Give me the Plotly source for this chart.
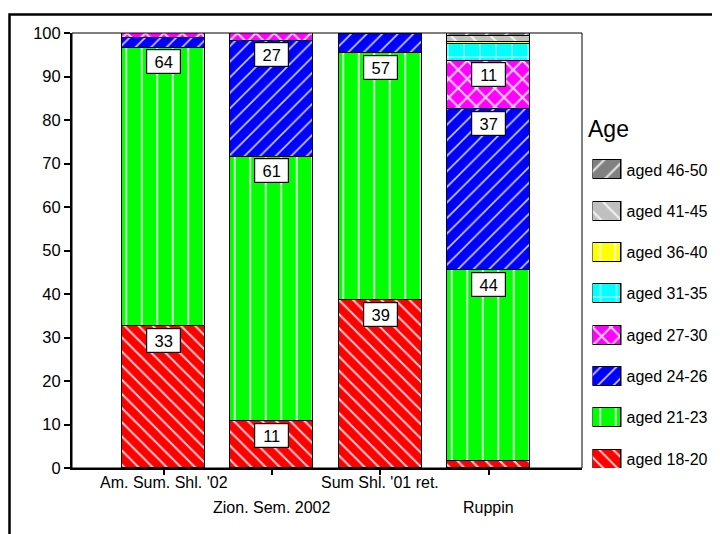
import plotly.graph_objects as go

categories = ["Am. Sum. Shl. '02", "Zion. Sem. 2002", "Sum Shl. '01 ret.", "Ruppin"]
age_groups = ["aged 18-20", "aged 21-23", "aged 24-26", "aged 27-30",
              "aged 31-35", "aged 36-40", "aged 41-45", "aged 46-50"]
aged_18_20 = [32.6, 10.8, 38.6, 1.5]
aged_21_23 = [64.0, 60.7, 56.7, 44.0]
aged_24_26 = [2.3, 26.7, 4.4, 37.0]
aged_27_30 = [1.1, 1.8, 0.3, 11.1]
aged_31_35 = [None, None, None, 3.8]
aged_36_40 = [None, None, None, 0.6]
aged_41_45 = [None, None, None, 1.2]
aged_46_50 = [None, None, None, 0.8]
y_ticks = [0, 10, 20, 30, 40, 50, 60, 70, 80, 90, 100]
legend_title = "Age"

series = [aged_18_20, aged_21_23, aged_24_26, aged_27_30,
          aged_31_35, aged_36_40, aged_41_45, aged_46_50]
colors = ["#FF0000", "#00FF00", "#0000FF", "#FF00FF",
          "#00FFFF", "#FFFF00", "#C0C0C0", "#808080"]
patterns = [dict(shape="\\", size=10, solidity=0.2),
            dict(shape="|", size=15.5, solidity=0.13),
            dict(shape="/", size=11, solidity=0.15),
            dict(shape="x", size=13, solidity=0.3),
            dict(shape="+", size=16, solidity=0.13),
            dict(shape="|", size=15, solidity=0.13),
            dict(shape="\\", size=14, solidity=0.15),
            dict(shape="/", size=14, solidity=0.15)]

FONT = "Arial, Liberation Sans, sans-serif"
OFF = 8  # page body margin
W, H = 720 - OFF, 534 - OFF
# plot box in window pixels: x 72..582, y 33..468
ML = 72 - OFF
MT = 33 - OFF
MB = 534 - 468
MR = 10
PW = W - ML - MR
PH = H - MT - MB

def px_x(p):  # window px -> paper
    return (p - OFF - ML) / PW

def px_y(p):
    return (H - MB - (p - OFF)) / PH

main_right = px_x(582)

fig = go.Figure()
for name, vals, col, pat in zip(age_groups, series, colors, patterns):
    fig.add_trace(go.Bar(
        x=categories, y=vals, name=name, width=0.766,
        marker=dict(color=col, line=dict(color="black", width=1.5),
                    pattern=dict(fgcolor="white", fgopacity=0.8, **pat)),
        showlegend=False, xaxis="x", yaxis="y"))

# legend swatches drawn as bars on a small side axis
for name, col, pat in zip(age_groups, colors, patterns):
    fig.add_trace(go.Bar(
        y=[name], x=[1], orientation="h", width=0.46, name=name,
        marker=dict(color=col, line=dict(color="black", width=1.5),
                    pattern=dict(fgcolor="white", fgopacity=0.8, **pat)),
        showlegend=False, xaxis="x2", yaxis="y2"))

annotations = []
for ci, cat in enumerate(categories):
    cum = 0.0
    for vals in series:
        v = vals[ci]
        if v is None:
            continue
        cum += v
        if v >= 10:
            annotations.append(dict(
                x=cat, y=cum, xref="x", yref="y", text=str(int(round(v))),
                showarrow=False, yanchor="top", xanchor="center", yshift=-1.5,
                bgcolor="white", bordercolor="black", borderwidth=1.2,
                borderpad=2, width=29, height=19,
                font=dict(family=FONT, size=16.5, color="black")))

for ci, cat in enumerate(categories):
    annotations.append(dict(
        x=cat, y=0, xref="x", yref="paper", text=cat, showarrow=False,
        yanchor="top", xanchor="center", yshift=-4 if ci % 2 == 0 else -29,
        font=dict(family=FONT, size=16, color="black")))

annotations.append(dict(
    x=px_x(586), y=px_y(129), xref="paper", yref="paper", text=legend_title,
    showarrow=False, xanchor="left", yanchor="middle",
    font=dict(family=FONT, size=23, color="black")))

shapes = [
    dict(type="rect", xref="paper", yref="paper", x0=0, x1=main_right, y0=0, y1=1,
         line=dict(color="black", width=1)),
    dict(type="rect", xref="paper", yref="paper", x0=px_x(9.5), x1=px_x(740),
         y0=px_y(560), y1=px_y(14.5), line=dict(color="black", width=2.5)),
]

fig.update_layout(
    width=W, height=H, barmode="stack",
    margin=dict(l=ML, r=MR, t=MT, b=MB),
    paper_bgcolor="white", plot_bgcolor="white",
    font=dict(family=FONT, size=15, color="black"),
    xaxis=dict(domain=[0, main_right], type="category",
               range=[-0.8446, 3.863], showticklabels=False,
               ticks="outside", ticklen=5, tickwidth=1.5, tickcolor="black",
               showline=True, linewidth=2, linecolor="black",
               showgrid=False, zeroline=False, fixedrange=True),
    yaxis=dict(domain=[0, 1], range=[0, 100], tickvals=y_ticks,
               ticks="outside", ticklen=6, tickwidth=1.5, tickcolor="black",
               showline=True, linewidth=2, linecolor="black",
               showgrid=False, zeroline=False,
               tickfont=dict(family=FONT, size=16.5, color="black")),
    xaxis2=dict(domain=[px_x(592.5), px_x(621.5)], anchor="y2", range=[0, 1],
                visible=False, fixedrange=True),
    yaxis2=dict(domain=[0, 1], anchor="x2", side="right", type="category",
                categoryorder="array", categoryarray=age_groups,
                range=[-0.218, 10.317], showline=False, ticks="",
                ticklabelstandoff=4,
                showgrid=False, zeroline=False,
                tickfont=dict(family=FONT, size=16, color="black")),
    annotations=annotations, shapes=shapes,
    bargap=0, showlegend=False,
)

fig.write_html("out.html")
